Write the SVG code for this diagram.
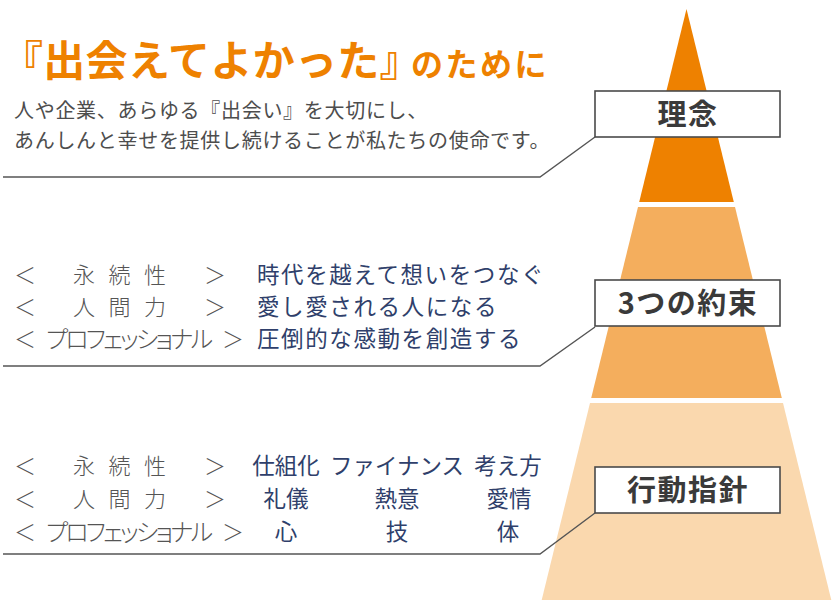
<svg xmlns="http://www.w3.org/2000/svg" width="837" height="600" viewBox="0 0 837 600">
<style>
text { font-family: "Noto Sans CJK JP", "Noto Sans", sans-serif; }
.title { font-weight: 700; fill: #EE8100; }
.sub { font-size: 20px; fill: #4d4d4d; letter-spacing: 0.7px; }
.lc { font-size: 22px; fill: #555555; text-anchor: middle; font-weight: 300; }
.lk { font-size: 24px; fill: #555555; font-weight: 300; font-feature-settings: "palt"; }
.rc { font-size: 22.5px; fill: #2F3F6B; letter-spacing: 1.6px; }
.rcm { font-size: 22.5px; fill: #2F3F6B; text-anchor: middle; }
.box rect { fill: #ffffff; stroke: #4a4a4a; stroke-width: 1.6; }
.box text { font-size: 29px; font-weight: 700; fill: #3a3a3a; text-anchor: middle; letter-spacing: 1.5px; }
.conn path { fill: none; stroke: #555555; stroke-width: 1.4; }
</style>

<g id="pyramid">
  <polygon id="tier1" points="686.5,9 639.2,202 733.8,202" fill="#EE8100"/>
  <polygon id="tier2" points="638,207 735,207 781.8,398 591.2,398" fill="#F4AE5D"/>
  <polygon id="tier3" points="590,403 783,403 831.3,600 541.7,600" fill="#FAD8AE"/>
</g>

<g id="heading">
  <text class="title" x="1" y="76" font-size="42" letter-spacing="0.3">『出会えてよかった』</text>
  <text class="title" x="411" y="76" font-size="32" letter-spacing="2.5">のために</text>
  <text class="sub" x="14" y="118">人や企業、あらゆる『出会い』を大切にし、</text>
  <text class="sub" x="14" y="147.5">あんしんと幸せを提供し続けることが私たちの使命です。</text>
</g>

<g id="promise-text">
  <text class="lc" y="283"><tspan x="25">＜</tspan><tspan x="84">永</tspan><tspan x="119.5">続</tspan><tspan x="155">性</tspan><tspan x="215">＞</tspan></text>
  <text class="lc" y="315"><tspan x="25">＜</tspan><tspan x="84">人</tspan><tspan x="119.5">間</tspan><tspan x="155">力</tspan><tspan x="215">＞</tspan></text>
  <text class="lc" x="25" y="347">＜</text>
  <text class="lk" x="46" y="347.5" textLength="167" lengthAdjust="spacing">プロフェッショナル</text>
  <text class="lc" x="233" y="347">＞</text>
  <text class="rc" x="257" y="283">時代を越えて想いをつなぐ</text>
  <text class="rc" x="257" y="315">愛し愛される人になる</text>
  <text class="rc" x="257" y="347">圧倒的な感動を創造する</text>
</g>

<g id="action-text">
  <text class="lc" y="474"><tspan x="25">＜</tspan><tspan x="84">永</tspan><tspan x="119.5">続</tspan><tspan x="155">性</tspan><tspan x="215">＞</tspan></text>
  <text class="lc" y="507"><tspan x="25">＜</tspan><tspan x="84">人</tspan><tspan x="119.5">間</tspan><tspan x="155">力</tspan><tspan x="215">＞</tspan></text>
  <text class="lc" x="25" y="540">＜</text>
  <text class="lk" x="46" y="540.5" textLength="167" lengthAdjust="spacing">プロフェッショナル</text>
  <text class="lc" x="233" y="540">＞</text>
  <text class="rcm" x="286" y="474">仕組化</text>
  <text class="rcm" x="397" y="474">ファイナンス</text>
  <text class="rcm" x="508" y="474">考え方</text>
  <text class="rcm" x="286" y="507">礼儀</text>
  <text class="rcm" x="397" y="507">熱意</text>
  <text class="rcm" x="509" y="507">愛情</text>
  <text class="rcm" x="286" y="540">心</text>
  <text class="rcm" x="397" y="540">技</text>
  <text class="rcm" x="508" y="540">体</text>
</g>

<g class="conn" id="connectors">
  <path d="M3 177 H540 L595 137"/>
  <path d="M3 366 H540 L595 327"/>
  <path d="M3 554 H540 L595 513"/>
</g>

<g class="box" id="node-rinen">
  <rect x="595" y="91" width="185" height="46"/>
  <text x="688" y="125">理念</text>
</g>
<g class="box" id="node-yakusoku">
  <rect x="595" y="280" width="185" height="46"/>
  <text x="688" y="314">3つの約束</text>
</g>
<g class="box" id="node-koudou">
  <rect x="595" y="467" width="185" height="46"/>
  <text x="688" y="501">行動指針</text>
</g>
</svg>
